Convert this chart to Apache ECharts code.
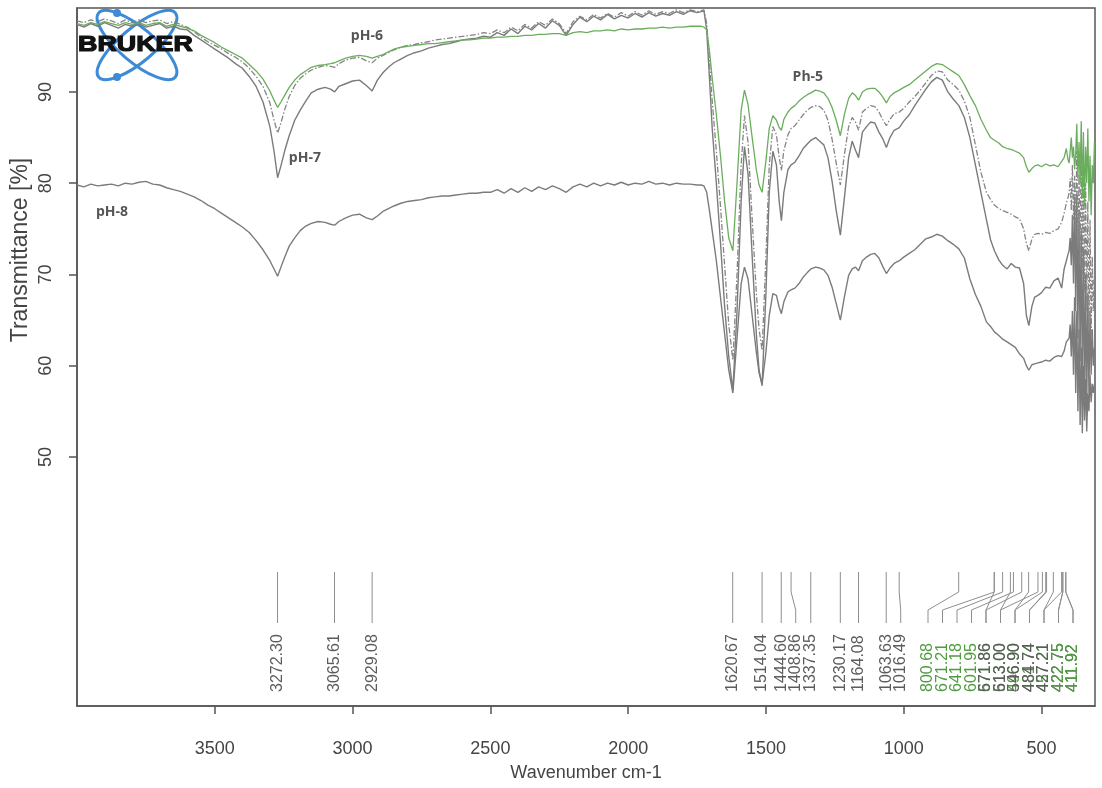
<!DOCTYPE html>
<html>
<head>
<meta charset="utf-8">
<title>FTIR spectra pH 5-8</title>
<script src="https://cdn.jsdelivr.net/npm/echarts@6/dist/echarts.min.js"></script>
<style>
  html, body { margin: 0; padding: 0; background: #ffffff; }
  #chart { width: 1102px; height: 788px; }
</style>
</head>
<body>
<div id="chart"></div>
<script>
// Wavenumber grid (cm-1), shared by all four spectra
const wavenumbers = [
  4000, 3975, 3950, 3925, 3900, 3875, 3850, 3825, 3800, 3775, 3750, 3725, 3700, 3675, 3650, 3625, 3600,
  3575, 3550, 3525, 3500, 3475, 3450, 3425, 3400, 3375, 3350, 3325, 3300, 3285, 3272, 3260, 3245, 3230, 3210,
  3190, 3170, 3150, 3125, 3100, 3080, 3065, 3050, 3025, 3000, 2975, 2950, 2929, 2910, 2890, 2870, 2850, 2825, 2800,
  2775, 2750, 2725, 2700, 2675, 2650, 2625, 2600, 2575, 2550, 2525, 2500, 2475, 2450, 2425, 2400, 2375, 2350,
  2325, 2300, 2275, 2250, 2225, 2200, 2175, 2150, 2125, 2100, 2075, 2050, 2025, 2000, 1975, 1950, 1925, 1900,
  1875, 1850, 1825, 1800, 1775, 1750,
  1735, 1725, 1715, 1705, 1695, 1680, 1665, 1650, 1635, 1620, 1605, 1590, 1578, 1565, 1550, 1535, 1525, 1514,
  1500, 1488, 1475, 1462, 1452, 1444, 1435, 1420, 1409, 1395, 1380, 1365, 1350, 1337, 1320, 1305, 1290, 1275,
  1260, 1245, 1230, 1215, 1200, 1187, 1175, 1164, 1150, 1135, 1120, 1105, 1090, 1075, 1063, 1050, 1035, 1016, 1000,
  980, 960, 940, 920, 900, 880, 860, 840, 820, 800, 780, 760, 740, 720, 700, 685, 671, 655, 641, 625,
  610, 595, 580, 565, 555, 546, 535, 525, 513, 500, 485, 470, 455, 440, 427, 418, 410,
  404, 400, 396, 392, 388, 384, 380, 376, 372, 368, 364, 360, 356, 352, 348, 344, 340, 336, 332, 328, 324, 320, 316, 312, 308
];

// Transmittance [%] for each sample
const ph5 = [
  97.5, 97.3, 97.6, 97.4, 97.7, 97.5, 97.3, 97.6, 97.4, 97.6, 97.3, 97.5, 97.6, 97.2, 97.4, 97.2, 97.0,
  96.7, 96.2, 95.8, 95.4, 94.9, 94.5, 94.1, 93.7, 93.0, 92.3, 91.4, 90.1, 89.1, 88.3, 88.9, 89.7, 90.5, 91.3,
  91.9, 92.3, 92.7, 92.9, 93.0, 93.1, 93.2, 93.4, 93.7, 93.9, 94.0, 93.9, 93.7, 93.9, 94.1, 94.4, 94.7, 94.9, 95.0,
  95.1, 95.2, 95.3, 95.3, 95.4, 95.5, 95.6, 95.7, 95.7, 95.8, 95.9, 95.9, 96.0, 96.0, 96.1, 96.1, 96.2, 96.2,
  96.3, 96.3, 96.4, 96.4, 96.2, 96.5, 96.6, 96.5, 96.7, 96.7, 96.8, 96.7, 96.9, 96.8, 96.9, 96.9, 97.0, 97.0,
  97.1, 97.0, 97.1, 97.1, 97.2, 97.2,
  97.2, 97.1, 96.8, 94.5, 91.5, 87.5, 83.0, 78.0, 74.0, 72.6, 80.0, 88.0, 90.2, 88.6, 85.0, 81.5, 79.8, 79.0,
  82.5, 86.0, 87.4, 86.9, 86.1, 85.8, 87.0, 87.8, 88.2, 88.5, 89.0, 89.4, 89.7, 89.9, 90.2, 90.1, 89.9, 89.3,
  88.3, 86.9, 85.2, 87.6, 89.3, 89.9, 89.6, 89.1, 90.0, 90.3, 90.4, 90.4, 90.0, 89.4, 88.8, 89.5, 89.9, 90.2, 90.5,
  90.8, 91.3, 91.8, 92.3, 92.8, 93.1, 93.0, 92.6, 92.2, 91.8, 90.8, 89.6, 88.5, 87.0, 85.8, 85.0, 84.7, 84.4, 84.0, 83.8,
  83.7, 83.5, 83.3, 82.8, 81.8, 81.2, 81.6, 81.9, 82.0, 81.8, 82.1, 81.9, 82.0, 81.8, 82.4, 82.8, 83.8,
  82.6, 82.2, 83.5, 85.0, 82.8, 84.0, 81.5, 83.2, 86.5, 80.5, 84.5, 79.8, 86.8, 78.5, 85.6, 77.5, 84.0, 80.0, 86.0, 78.0, 83.0, 76.5, 82.0, 80.0, 84.5
];

const ph6 = [
  97.8, 97.6, 97.9, 97.7, 98.0, 97.8, 97.5, 97.9, 97.6, 97.9, 97.6, 97.8, 97.9, 97.5, 97.7, 97.4, 97.1,
  96.6, 96.0, 95.5, 95.1, 94.7, 94.2, 93.8, 93.3, 92.6, 91.7, 90.6, 88.8, 86.9, 85.5, 86.6, 88.2, 89.5, 90.7,
  91.5, 92.0, 92.4, 92.7, 92.9, 92.8, 92.7, 93.1, 93.5, 93.7, 93.8, 93.4, 93.2, 93.7, 94.0, 94.3, 94.6, 94.9, 95.1,
  95.2, 95.4, 95.5, 95.7, 95.8, 95.9, 96.0, 96.1, 96.2, 96.3, 96.5, 96.4, 96.8, 96.5, 97.1, 96.7, 97.4, 97.0,
  97.7, 97.3, 98.0, 97.5, 96.4, 97.7, 98.3, 97.9, 98.5, 98.1, 98.6, 98.2, 98.7, 98.3, 98.8, 98.4, 98.9, 98.5,
  98.8, 98.6, 99.0, 98.7, 99.0, 98.8,
  98.9, 99.0, 97.5, 93.5, 89.0, 83.5, 77.5, 71.0, 64.5, 60.6, 70.0, 82.0, 87.4, 84.5, 76.0, 68.0, 64.0, 61.7,
  72.0, 82.0, 86.2, 85.3, 82.8, 81.4, 83.6, 85.3, 86.0, 86.3, 86.9, 87.5, 88.0, 88.3, 88.5, 88.4, 88.0, 86.9,
  84.8, 82.2, 79.8, 83.2, 86.2, 87.2, 86.7, 85.8, 87.8, 88.2, 88.5, 88.4, 87.8, 86.9, 86.3, 87.0, 87.6, 87.8, 88.2,
  88.9, 89.5, 90.2, 91.0, 91.8, 92.3, 92.2, 91.3, 90.8, 90.2, 89.0, 87.2, 84.2, 81.2, 79.0, 78.2, 77.6, 77.2, 77.0, 76.8,
  76.6, 76.3, 76.1, 75.0, 73.4, 72.6, 73.9, 74.4, 74.5, 74.4, 74.6, 74.5, 74.8, 75.0, 75.7, 76.7, 77.8,
  78.4, 78.9, 80.5, 77.0, 82.0, 76.0, 80.8, 74.5, 83.5, 73.0, 81.0, 71.0, 84.5, 70.0, 82.0, 68.0, 80.0, 66.0, 78.0, 64.0, 76.0, 63.0, 72.0, 66.0, 70.0
];

const ph7 = [
  97.4, 97.1, 97.5, 97.2, 97.6, 97.3, 97.0, 97.4, 97.2, 97.5, 97.1, 97.3, 97.5, 97.0, 97.2, 96.9, 96.8,
  96.2, 95.7, 95.2, 94.7, 94.2, 93.7, 93.1, 92.6, 91.7, 90.6, 88.9, 86.2, 83.5, 80.6, 81.9, 83.7, 85.2, 86.9,
  88.0, 89.0, 89.9, 90.3, 90.5, 90.3, 90.0, 90.6, 90.9, 91.2, 91.3, 90.7, 90.1, 91.3, 92.1, 92.7, 93.2, 93.6, 94.0,
  94.3, 94.5, 94.8, 95.0, 95.2, 95.3, 95.5, 95.7, 95.8, 95.9, 96.1, 96.0, 96.5, 96.2, 96.9, 96.4, 97.2, 96.8,
  97.5, 97.0, 97.8, 97.3, 96.2, 97.4, 98.2, 97.7, 98.3, 97.9, 98.5, 98.0, 98.4, 98.1, 98.6, 98.2, 98.7, 98.3,
  98.6, 98.4, 98.8, 98.5, 98.9, 98.7,
  98.8, 98.9, 96.8, 91.5, 86.0, 80.0, 73.5, 66.5, 61.0, 57.3, 66.0, 78.0, 84.0, 81.0, 72.0, 63.5, 59.5, 57.8,
  68.0, 79.0, 83.5, 82.0, 78.0, 75.9, 79.0, 81.5, 82.0, 82.3, 83.0, 83.8, 84.3, 84.7, 85.0, 84.6, 84.2, 82.8,
  80.2, 77.0, 74.3, 78.5, 82.8, 84.6, 83.6, 82.8, 85.6, 86.2, 86.7, 86.6, 85.6, 84.8, 83.9, 85.0, 85.8, 86.1, 86.8,
  87.5, 88.5, 89.4, 90.3, 91.1, 91.6, 91.3, 90.0, 89.2, 88.5, 87.2, 85.0, 82.0, 79.0, 76.0, 73.8, 72.6, 71.6, 71.0, 70.6,
  71.2, 70.8, 70.7, 69.0, 65.5, 64.4, 66.5, 67.5, 67.7, 68.0, 68.6, 68.5, 69.3, 69.6, 68.5, 70.6, 71.5,
  72.2, 72.6, 74.0, 71.0, 76.5, 69.0, 78.5, 66.0, 79.0, 63.0, 77.0, 60.5, 75.0, 58.0, 73.0, 56.0, 70.0, 55.0, 68.0, 57.0, 66.0, 59.0, 64.0, 60.0, 62.0
];

const ph8 = [
  79.8, 79.6, 79.9, 79.7, 79.8, 79.9, 79.7, 80.0, 79.9, 80.1, 80.2, 79.9, 79.8, 79.5, 79.3, 79.1, 78.8,
  78.5, 78.1, 77.6, 77.2, 76.7, 76.2, 75.7, 75.2, 74.6, 73.7, 72.7, 71.5, 70.6, 69.8, 70.8, 72.0, 73.1, 74.0,
  74.8, 75.3, 75.6, 75.8, 75.7, 75.5, 75.4, 75.8, 76.2, 76.5, 76.6, 76.2, 76.0, 76.4, 76.9, 77.2, 77.5, 77.8, 78.0,
  78.1, 78.2, 78.4, 78.5, 78.6, 78.6, 78.7, 78.8, 78.9, 78.9, 79.0, 79.0, 79.3, 78.9, 79.4, 79.0, 79.5, 79.1,
  79.6, 79.3, 79.7, 79.4, 79.0, 79.6, 79.9, 79.6, 80.0, 79.7, 80.0, 79.8, 80.1, 79.8, 80.0, 79.9, 80.2, 79.9,
  80.0, 79.8, 80.0, 79.9, 79.9, 79.8,
  79.8, 79.7, 79.0, 77.0, 74.8, 71.5, 67.5, 63.5, 59.5, 57.0, 63.0, 69.0, 70.8, 69.5, 65.5, 61.5, 59.2, 58.0,
  61.5, 65.5, 67.9, 67.7, 66.4, 65.7, 67.0, 68.1, 68.3, 68.5, 69.0, 69.7, 70.2, 70.6, 70.8, 70.7, 70.5, 69.9,
  68.6, 66.8, 65.0, 67.6, 69.9, 70.6, 70.8, 70.4, 71.5, 71.9, 72.2, 72.3, 71.8, 70.8, 70.1, 70.7, 71.2, 71.5, 71.9,
  72.3, 72.7, 73.3, 73.9, 74.1, 74.4, 74.2, 73.7, 73.3, 72.8, 71.8, 69.5, 67.8, 66.5, 64.8, 64.3, 63.7, 63.3, 62.9, 62.6,
  62.3, 62.0, 61.3, 60.8, 60.0, 59.5, 60.1, 60.2, 60.3, 60.4, 60.6, 60.5, 60.9, 61.1, 61.0, 61.6, 62.6,
  62.8, 63.0, 64.5, 61.0, 66.0, 59.0, 67.5, 57.0, 66.0, 55.0, 64.0, 53.5, 62.0, 52.6, 60.0, 54.0, 58.5, 52.8, 57.0, 55.0, 59.0, 56.0, 58.0, 57.0, 58.0
];

// Axis ticks
const xTicks = [3500, 3000, 2500, 2000, 1500, 1000, 500];
const yTicks = [50, 60, 70, 80, 90];

// Peak picks (cm-1): grey spectra and the pH-5 spectrum
const peaksGrey = [3272.30, 3065.61, 2929.08, 1620.67, 1514.04, 1444.60, 1408.86, 1337.35, 1230.17,
  1164.08, 1063.63, 1016.49, 671.86, 613.00, 546.90, 484.74, 427.21, 422.75, 411.92];
const peaksGreen = [800.68, 671.21, 641.18, 601.95, 571.86, 513.00, 496.90, 481.74, 457.21, 422.75, 411.92];

// Curve tags (wavenumber, transmittance)
const tagNames = ['pH-6', 'pH-7', 'pH-8', 'Ph-5'];
const tagAnchors = [[2948, 96.1], [3173, 82.8], [3873, 76.8], [1348, 91.6]];

const X_MIN = 306, X_MAX = 4000;
const Y_MIN = 22.7, Y_MAX = 99.2;
const GREY = '#7b7b7b';
const GREEN = '#6aad5c';
const AXIS = '#555555';
const FONT = '"Liberation Sans", Arial, Helvetica, sans-serif';

function pairs(values) {
  return wavenumbers.map((w, i) => [w, values[i]]);
}

// Peak-pick annotations: leader lines from each peak position, labels spread
// apart and kept clear of the right frame edge.
function renderPeakLabels(params, api) {
  const cs = params.coordSys;
  const bottom = cs.y + cs.height;
  const limit = cs.x + cs.width - 22;
  const gap = 14.5;
  const children = [];
  const sets = [
    { peaks: peaksGreen, color: '#4f9c40', base: 10 },
    { peaks: peaksGrey, color: '#5c5c5c', base: 20 }
  ];
  sets.forEach((set, si) => {
    const xs = set.peaks.map(w => api.coord([w, Y_MIN])[0]);
    const order = xs.map((x, i) => i).sort((a, b) => xs[a] - xs[b]);
    const pos = order.map(i => xs[i]);
    for (let k = 1; k < pos.length; k++) pos[k] = Math.max(pos[k], pos[k - 1] + gap);
    pos[pos.length - 1] = Math.min(pos[pos.length - 1], limit);
    for (let k = pos.length - 2; k >= 0; k--) pos[k] = Math.min(pos[k], pos[k + 1] - gap);
    order.forEach((i, k) => {
      const px = xs[i], lx = pos[k];
      const value = set.peaks[i];
      // peaks picked in both spectra are shown in the pH-5 colour
      const shared = si === 0 && peaksGrey.indexOf(value) >= 0;
      children.push({
        type: 'polyline',
        z2: 1,
        shape: { points: [[px, bottom - 134], [px, bottom - 114], [lx, bottom - 96], [lx, bottom - 83]] },
        style: { stroke: '#8e8e8e', lineWidth: 1, fill: null }
      });
      children.push({
        type: 'text',
        x: lx,
        y: bottom - 14,
        rotation: Math.PI / 2,
        z2: shared ? 30 : set.base,
        style: {
          text: value.toFixed(2),
          fill: set.color,
          font: '16px ' + FONT,
          align: 'left',
          verticalAlign: 'middle'
        }
      });
    });
  });
  return { type: 'group', children: children };
}

const chart = echarts.init(document.getElementById('chart'), null, { renderer: 'canvas' });

const option = {
  animation: false,
  backgroundColor: '#ffffff',
  grid: {
    left: 77, right: 7, top: 8, bottom: 82,
    show: true, borderColor: AXIS, borderWidth: 1.5,
    containLabel: false, outerBoundsMode: 'none'
  },
  xAxis: {
    type: 'value',
    inverse: true,
    min: X_MIN,
    max: X_MAX,
    axisLine: { show: true, onZero: false, lineStyle: { color: AXIS, width: 1.5 } },
    axisTick: { show: true, length: 8, customValues: xTicks, lineStyle: { color: AXIS, width: 1.5 } },
    axisLabel: { customValues: xTicks, formatter: v => String(v), color: '#444', fontSize: 18, margin: 34, fontFamily: FONT },
    splitLine: { show: false },
    name: 'Wavenumber cm-1',
    nameLocation: 'middle',
    nameGap: 58,
    nameTextStyle: { color: '#444', fontSize: 18, fontFamily: FONT }
  },
  yAxis: {
    type: 'value',
    min: Y_MIN,
    max: Y_MAX,
    axisLine: { show: true, onZero: false, lineStyle: { color: AXIS, width: 1.5 } },
    axisTick: { show: true, length: 8, customValues: yTicks, lineStyle: { color: AXIS, width: 1.5 } },
    axisLabel: { customValues: yTicks, formatter: v => String(v), rotate: 90, color: '#444', fontSize: 18, margin: 22, fontFamily: FONT },
    splitLine: { show: false }
  },
  graphic: [
    {
      type: 'group',
      x: 137, y: 45, z: 100, silent: true,
      children: [
        { type: 'ellipse', rotation: -0.698, shape: { cx: 0, cy: 0, rx: 50, ry: 17 },
          style: { fill: 'none', stroke: '#3d8bd6', lineWidth: 3 } },
        { type: 'ellipse', rotation: 0.698, shape: { cx: 0, cy: 0, rx: 50, ry: 17 },
          style: { fill: 'none', stroke: '#3d8bd6', lineWidth: 3 } },
        { type: 'circle', shape: { cx: -20, cy: -32, r: 4 }, style: { fill: '#3d8bd6' } },
        { type: 'circle', shape: { cx: -20, cy: 32, r: 4 }, style: { fill: '#3d8bd6' } },
        { type: 'text', x: -59, y: 0, scaleX: 1.22,
          style: { text: 'BRUKER', font: 'bold 22px ' + FONT, fill: '#111111', stroke: '#111111', lineWidth: 1.2,
            align: 'left', verticalAlign: 'middle' } }
      ]
    },
    {
      type: 'text',
      x: 21, y: 250, rotation: Math.PI / 2, silent: true,
      style: { text: 'Transmittance [%]', font: '23px ' + FONT, fill: '#444', align: 'center', verticalAlign: 'middle' }
    }
  ],
  series: [
    { name: 'pH-8', type: 'line', data: pairs(ph8), showSymbol: false, symbol: 'none',
      lineStyle: { color: GREY, width: 1.4 }, z: 2 },
    { name: 'pH-7', type: 'line', data: pairs(ph7), showSymbol: false, symbol: 'none',
      lineStyle: { color: GREY, width: 1.4 }, z: 2 },
    { name: 'pH-6', type: 'line', data: pairs(ph6), showSymbol: false, symbol: 'none',
      lineStyle: { color: '#858585', width: 1.3, type: [6, 2, 1.5, 2] }, z: 2 },
    { name: 'pH-5', type: 'line', data: pairs(ph5), showSymbol: false, symbol: 'none',
      lineStyle: { color: GREEN, width: 1.3 }, z: 2 },
    { name: 'peaks', type: 'custom', renderItem: renderPeakLabels, data: [[X_MIN, Y_MIN]],
      silent: true, clip: false, z: 3 },
    { name: 'tags', type: 'scatter', symbolSize: 1, silent: true, z: 4,
      itemStyle: { color: 'rgba(0,0,0,0)' },
      data: tagAnchors.map((p, i) => ({ value: p, name: tagNames[i] })),
      label: { show: true, position: 'inside', formatter: '{b}', color: '#2b2b2b',
        fontSize: 14, fontWeight: 'bold', fontFamily: '"Open Sans", "Noto Sans", sans-serif' } }
  ]
};

chart.setOption(option);
</script>
</body>
</html>
